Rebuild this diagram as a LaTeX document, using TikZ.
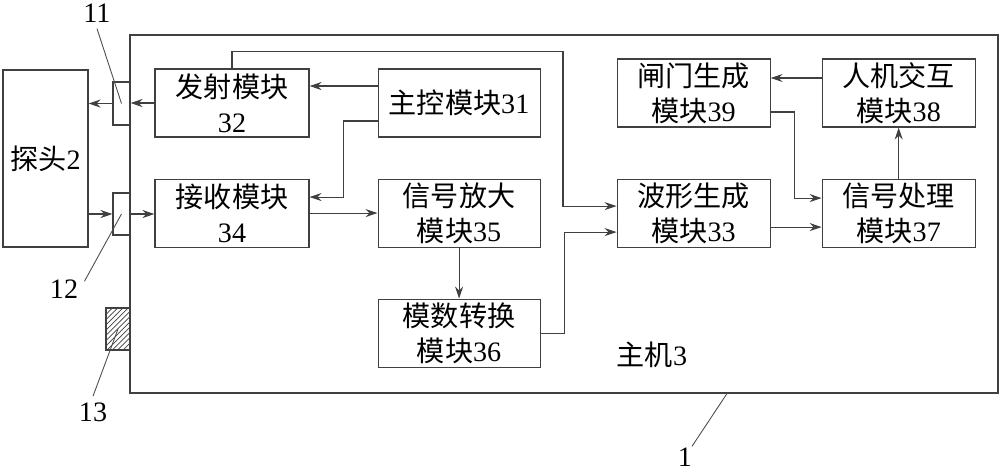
\documentclass[tikz,border=0pt]{standalone}
\usepackage{fontspec}
\setmainfont{Liberation Serif}
\newfontfamily\cjk{Noto Sans CJK SC}
\usetikzlibrary{arrows.meta, positioning, patterns}

\begin{document}
\begin{tikzpicture}[
    >={Stealth[length=2.4mm, width=1.6mm]},
    line width=0.6pt,
    every node/.style={font=\fontsize{16}{20}\selectfont},
    module/.style={rectangle, draw=black!75, align=center, minimum height=1.36cm, inner sep=0pt},
    port/.style={rectangle, draw=black!75, minimum width=0.34cm, inner sep=0pt},
    link/.style={->, draw=black!75},
    leader/.style={draw=black!70, line width=0.5pt}
]
\useasboundingbox (0,0) rectangle (20,-9.46);

% Host, probe and ports
\node[draw=black!75, minimum width=17.36cm, minimum height=7.16cm] (host) at (11.28,-4.28) {};
\node[draw=black!75, minimum width=1.7cm, minimum height=3.54cm] (tantou) at (0.91,-3.17) {{\cjk 探头}2};
\node[port, minimum height=0.86cm] (port11) at (2.43,-2.07) {};
\node[port, minimum height=0.84cm] (port12) at (2.43,-4.28) {};
\node[draw=black!75, pattern=north east lines, pattern color=black!75,
      minimum width=0.48cm, minimum height=0.84cm, inner sep=0pt] (anjian) at (2.36,-6.58) {};

% Modules
\node[module, minimum width=3.08cm] (fashe) at (4.64,-2.06) {{\cjk 发射模块}\\32};
\node[module, minimum width=3.24cm, right=1.36cm of fashe] (zhukong) {{\cjk 主控模块}31};
\node[module, minimum width=3.08cm, below=0.82cm of fashe] (jieshou) {{\cjk 接收模块}\\34};
\node[module, minimum width=3.24cm, below=0.82cm of zhukong] (fangda) {{\cjk 信号放大}\\{\cjk 模块}35};
\node[module, minimum width=3.24cm, below=1.02cm of fangda] (moshu) {{\cjk 模数转换}\\{\cjk 模块}36};
\node[module, minimum width=3.06cm, right=1.52cm of fangda] (boxing) {{\cjk 波形生成}\\{\cjk 模块}33};
\node[module, minimum width=3.06cm, right=1.02cm of boxing] (chuli) {{\cjk 信号处理}\\{\cjk 模块}37};
\node[module, minimum width=3.06cm, above=1.02cm of boxing] (zhamen) {{\cjk 闸门生成}\\{\cjk 模块}39};
\node[module, minimum width=3.06cm, above=1.02cm of chuli] (renji) {{\cjk 人机交互}\\{\cjk 模块}38};
\node (zhuji) at (13.04,-7.1) {{\cjk 主机}3};

% Labels
\node (l11) at (1.94,-0.26) {11};
\node (l12) at (1.28,-5.78) {12};
\node (l13) at (1.86,-8.24) {13};
\node (l1) at (13.7,-9.14) {1};

% Connections
\draw[link] (fashe.west) -- (fashe.west -| port11.east);
\draw[link] (port11.west) -- (port11.west -| tantou.east);
\draw[link] (tantou.east |- port12) -- (port12.west);
\draw[link] (port12.east) -- (port12.east -| jieshou.west);
\draw[link] ([yshift=3.4mm]zhukong.west) -- ([yshift=3.4mm]fashe.east);
\draw[link] ([yshift=-3.6mm]zhukong.west) -- ++(-0.68,0) |- ([yshift=3.2mm]jieshou.east);
\draw[link] (jieshou) -- (fangda);
\draw[link] (fangda) -- (moshu);
\draw[link] (fashe.north) -- ++(0,0.34) -- ++(6.62,0) |- ([yshift=1.4mm]boxing.west);
\draw[link] (moshu.east) -- ++(0.48,0) |- ([yshift=-3.8mm]boxing.west);
\draw[link] ([yshift=-2.8mm]boxing.east) -- ([yshift=-2.8mm]chuli.west);
\draw[link] (chuli) -- (renji);
\draw[link] ([yshift=3mm]renji.west) -- ([yshift=3mm]zhamen.east);
\draw[link] ([yshift=-3.8mm]zhamen.east) -- ++(0.48,0) |- ([yshift=3mm]chuli.west);

% Leader lines
\draw[leader] (l11.south) -- (port11.center);
\draw[leader] ([yshift=-1.6mm]l12.north east) -- (port12.center);
\draw[leader] (l13.north) -- (anjian.center);
\draw[leader] ([xshift=1.4mm,yshift=-1mm]l1.north) -- ([xshift=3.26cm]host.south);

\end{tikzpicture}
\end{document}
